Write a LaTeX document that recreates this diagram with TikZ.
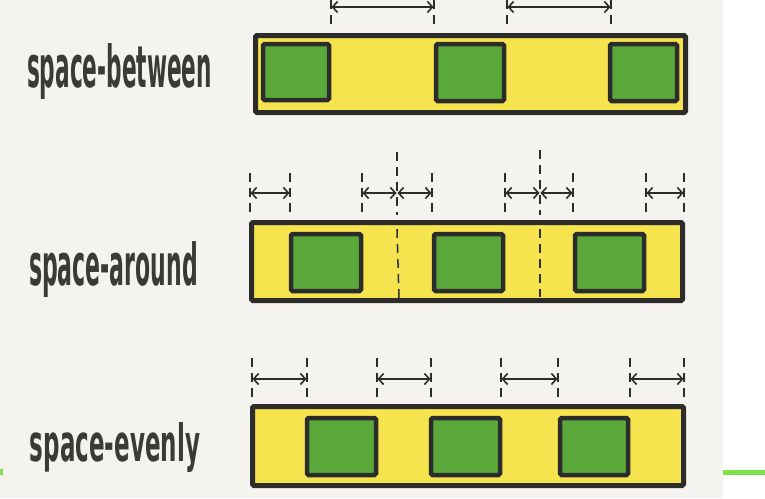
\documentclass[tikz,border=0pt]{standalone}
\usepackage{fontspec}
\setmainfont{DejaVu Sans}
\usepackage{graphicx}
\usetikzlibrary{arrows.meta}
\definecolor{bg}{HTML}{F4F3EF}
\definecolor{ink}{HTML}{2C2C2A}
\definecolor{yel}{HTML}{F6E44E}
\definecolor{grn}{HTML}{5AA83A}
\definecolor{lime}{HTML}{7EE24A}
\definecolor{txt}{HTML}{3A3A37}
\newcommand\rbox[6]{\node[#1,inner sep=0pt,outer sep=0pt,minimum width={(#5-#3)*1pt},minimum height={(#6-#4)*1pt}] (#2) at ({(#3+#5)/2},{(#4+#6)/2}) {};}
\begin{document}
\begin{tikzpicture}[x=1pt,y=-1pt,
  cont/.style={draw=ink,fill=yel,line width=5pt,rounded corners=1.5pt},
  item/.style={draw=ink,fill=grn,line width=4.5pt,rounded corners=1.5pt},
  guide/.style={draw=ink,line width=1.5pt,dash pattern=on 9pt off 6pt},
  span/.style={draw=ink,line width=1.6pt,{Straight Barb[length=5pt,width=11pt]}-{Straight Barb[length=5pt,width=11pt]},shorten <=0.5pt,shorten >=0.5pt},
  lbl/.style={anchor=north west,inner sep=0pt,outer sep=0pt,text=txt,font=\bfseries}]
\useasboundingbox (0,0) rectangle (765,498);
\fill[white] (0,0) rectangle (765,498);
\fill[bg] (0,0) rectangle (723,498);
\fill[lime] (0,469) rectangle (3,475);
\fill[lime] (723,470) rectangle (765,475);

% labels
\node[lbl] (l1) at (27,44) {\resizebox*{185pt}{56pt}{space-between}};
\node[lbl] (l2) at (29,242) {\resizebox*{169pt}{56pt}{space-around}};
\node[lbl] (l3) at (30,423) {\resizebox*{170pt}{50pt}{space-evenly}};

% row 1: space-between
\rbox{cont}{c1}{255.5}{35.5}{685.5}{112.5}
\rbox{item}{g11}{263}{44}{329}{100}
\rbox{item}{g12}{436}{44}{504}{101}
\rbox{item}{g13}{610}{44}{677}{101}
\foreach \x [count=\i] in {331,434,507,611}{
  \coordinate (a\i t) at (\x,0);
  \coordinate (a\i b) at (\x,29);
  \coordinate (a\i m) at (\x,7);
  \draw[guide] (a\i t) -- (a\i b);
}
\draw[span] (a1m) -- (a2m);
\draw[span] (a3m) -- (a4m);

% row 2: space-around
\rbox{cont}{c2}{251.5}{222.5}{682.5}{300.5}
\rbox{item}{g21}{291}{234}{361}{291}
\rbox{item}{g22}{434}{234}{503}{291}
\rbox{item}{g23}{575}{234}{644}{291}
\foreach \x [count=\i] in {250,290,362,397,432,505,540,573,646,684}{
  \coordinate (b\i t) at (\x,173);
  \coordinate (b\i b) at (\x,215);
  \coordinate (b\i m) at (\x,193);
}
\foreach \i in {1,2,3,5,6,8,9,10}{\draw[guide] (b\i t) -- (b\i b);}
\coordinate (b4T) at (397,152);
\coordinate (b7T) at (540,150);
\draw[guide] (b4T) -- (b4b);
\draw[guide] (b7T) -- (b7b);
\coordinate (m1t) at (397,229); \coordinate (m1b) at (399,298);
\coordinate (m2t) at (540,229); \coordinate (m2b) at (540,297);
\draw[guide] (m1t) -- (m1b);
\draw[guide] (m2t) -- (m2b);
\draw[span] (b1m) -- (b2m);
\draw[span] (b3m) -- (b4m);
\draw[span] (b4m) -- (b5m);
\draw[span] (b6m) -- (b7m);
\draw[span] (b7m) -- (b8m);
\draw[span] (b9m) -- (b10m);

% row 3: space-evenly
\rbox{cont}{c3}{252.5}{406.5}{683.5}{485.5}
\rbox{item}{g31}{307}{418}{376}{475}
\rbox{item}{g32}{431}{418}{500}{475}
\rbox{item}{g33}{560}{418}{628}{475}
\foreach \x [count=\i] in {252,307,377,431,501,558,630,684}{
  \coordinate (e\i t) at (\x,358);
  \coordinate (e\i b) at (\x,399);
  \coordinate (e\i m) at (\x,379);
  \draw[guide] (e\i t) -- (e\i b);
}
\draw[span] (e1m) -- (e2m);
\draw[span] (e3m) -- (e4m);
\draw[span] (e5m) -- (e6m);
\draw[span] (e7m) -- (e8m);
\end{tikzpicture}
\end{document}
